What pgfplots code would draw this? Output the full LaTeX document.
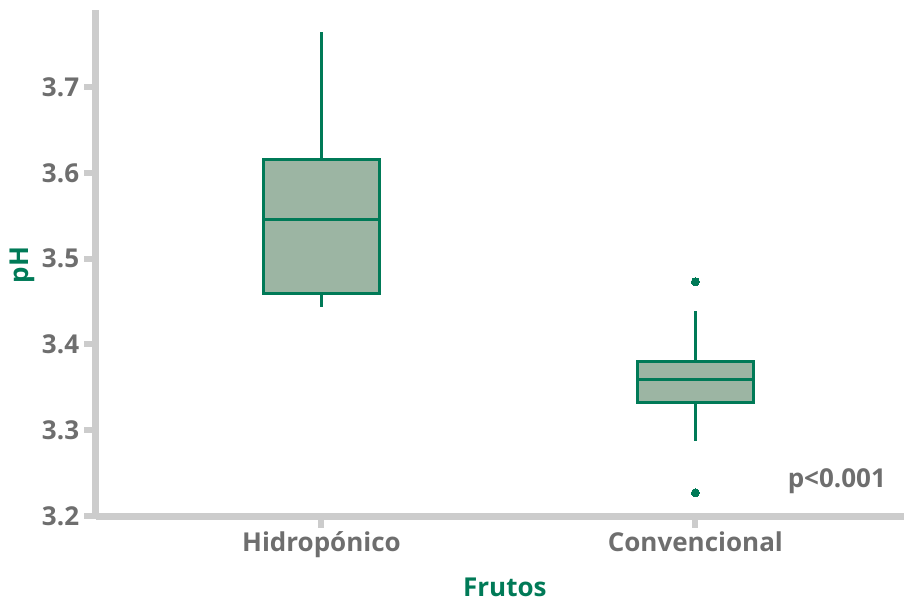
\documentclass[border=0pt]{standalone}
\usepackage{fontspec}
\setmainfont{Open Sans}
\usepackage{pgfplots}
\pgfplotsset{compat=1.18}
\usepgfplotslibrary{statistics}
\definecolor{grn}{RGB}{0,122,87}
\definecolor{boxfill}{RGB}{156,181,163}
\definecolor{txtgray}{RGB}{110,110,110}
\definecolor{axgray}{RGB}{204,204,204}
\begin{document}
\begin{tikzpicture}
\useasboundingbox (-48pt,-43pt) rectangle (404pt,258pt);
\begin{axis}[
  at={(0,0)}, anchor=south west,
  scale only axis, width=404pt, height=253pt,
  xmin=-0.603, xmax=1.558, ymin=3.2, ymax=3.7897,
  clip=false,
  axis lines*=left,
  axis line style={draw=axgray, line width=3.5pt, -},
  tick align=outside,
  major tick length=5.75pt,
  tick style={draw=axgray, line width=3pt},
  xtick={0,1}, xticklabels={Hidropónico,Convencional},
  ytick={3.2,3.3,3.4,3.5,3.6,3.7},
  /pgf/number format/assume math mode=true,
  /pgf/number format/fixed, /pgf/number format/precision=1,
  /pgf/number format/fixed zerofill,
  ticklabel style={font=\fontsize{13pt}{15pt}\selectfont\bfseries, text=txtgray},
  yticklabel style={inner sep=2.5pt},
  xticklabel style={inner sep=2pt},
  xlabel={Frutos}, ylabel={pH},
  label style={font=\fontsize{13pt}{15pt}\selectfont\bfseries, text=grn},
  xlabel style={at={(axis description cs:0.506,-0.141)}, anchor=center},
  ylabel style={at={(axis description cs:-0.0916,0.496)}, anchor=center},
  boxplot/draw direction=y,
  boxplot/box extend=0.31,
  boxplot/whisker extend=0,
  boxplot/every box/.style={draw=grn, fill=boxfill, line width=1.5pt},
  boxplot/every median/.style={draw=grn, line width=1.5pt},
  boxplot/every whisker/.style={draw=grn, line width=1.5pt},
]
\addplot[boxplot prepared={draw position=0, lower whisker=3.444, lower quartile=3.459, median=3.545, upper quartile=3.615, upper whisker=3.764},
  draw=grn, line width=1.5pt]
  coordinates {};
\addplot[boxplot prepared={draw position=1, lower whisker=3.288, lower quartile=3.332, median=3.359, upper quartile=3.380, upper whisker=3.439},
  draw=grn, line width=1.5pt, mark=*, mark size=2pt, mark options={fill=grn, draw=grn, line width=0pt}]
  table[row sep=\\, y index=0] {y\\ 3.473\\ 3.227\\};
\node[anchor=east, font=\fontsize{13pt}{15pt}\selectfont\bfseries, text=txtgray, inner sep=0pt] at (rel axis cs:0.978,0.069) {p<0.001};
\end{axis}
\end{tikzpicture}
\end{document}
